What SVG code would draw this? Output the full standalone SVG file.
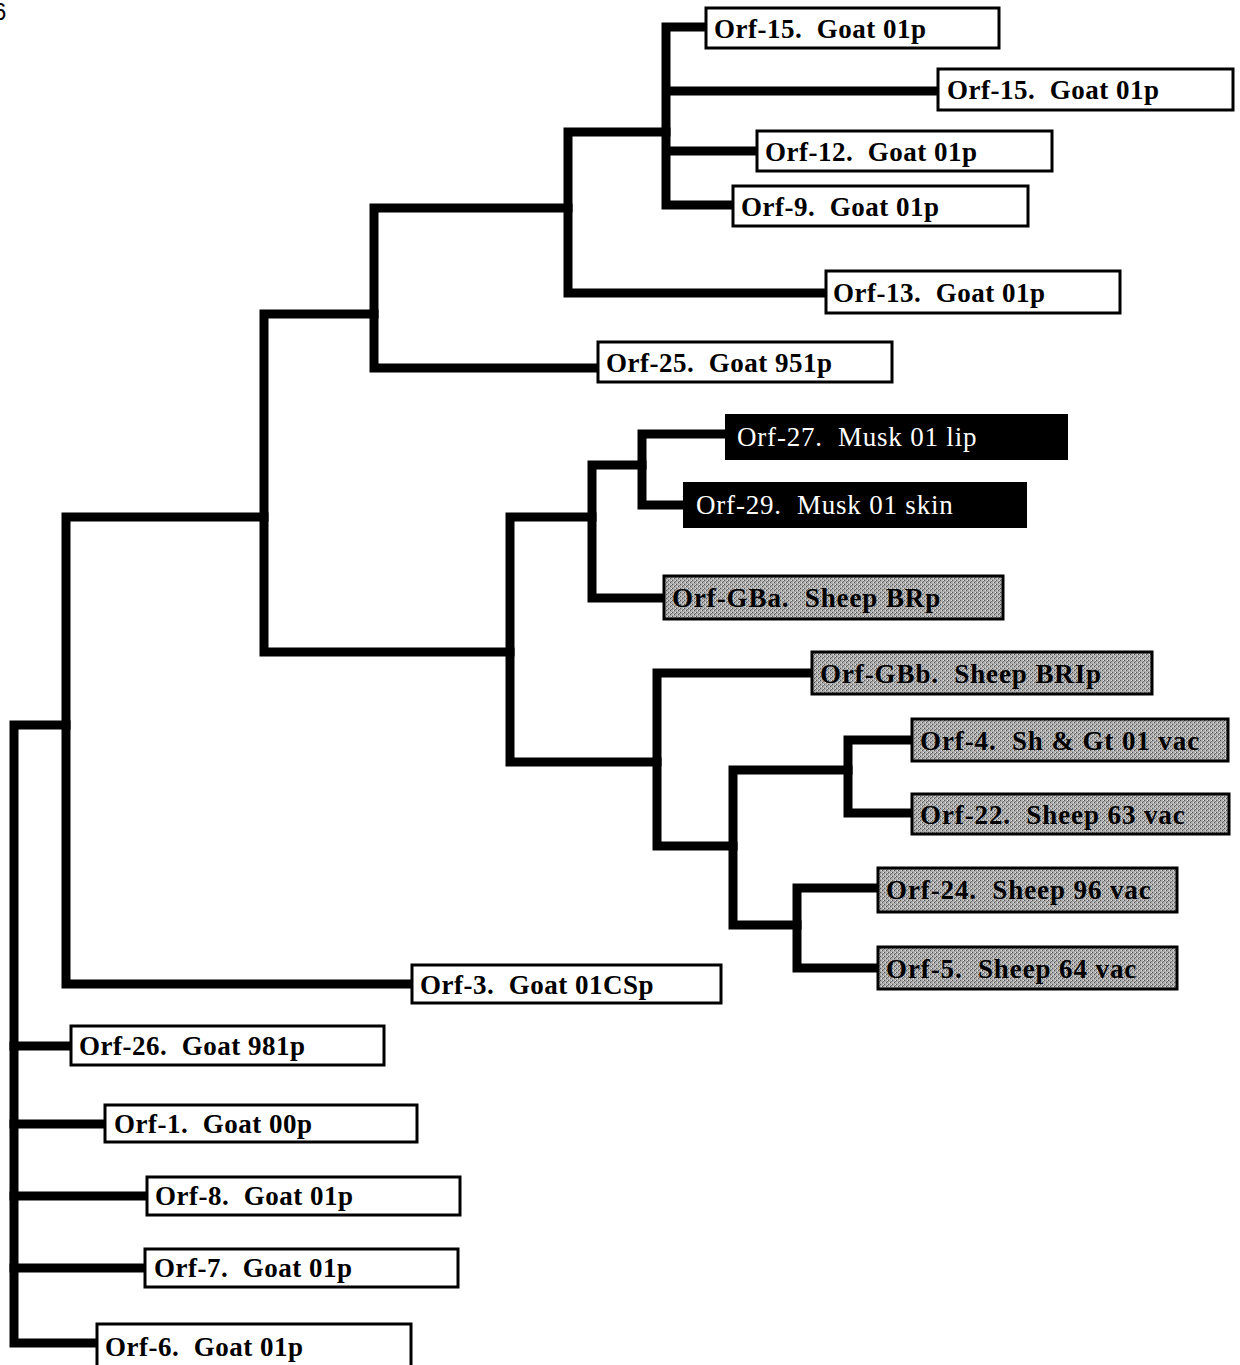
<svg xmlns="http://www.w3.org/2000/svg" width="1240" height="1365" viewBox="0 0 1240 1365">
<defs>
<pattern id="dither" width="4" height="4" patternUnits="userSpaceOnUse">
<rect width="4" height="4" fill="#acacac"/>
<rect x="0" y="0" width="1" height="1" fill="#555"/>
<rect x="2" y="2" width="1" height="1" fill="#555"/>
<rect x="3" y="1" width="1" height="1" fill="#777"/>
<rect x="3" y="0" width="1" height="1" fill="#e0e0e0"/>
<rect x="1" y="2" width="1" height="1" fill="#e0e0e0"/>
</pattern>
</defs>
<style>
.e{fill:none;stroke:#000;stroke-width:9;stroke-linecap:square;stroke-linejoin:miter}
.w rect{fill:#fff;stroke:#000;stroke-width:3}
.b rect{fill:#000;stroke:#000;stroke-width:2}
.g rect{fill:url(#dither);stroke:#000;stroke-width:3}
text{font-family:"Liberation Serif","Times New Roman",serif;font-size:27px;white-space:pre}
.w text{font-weight:bold;fill:#000;letter-spacing:0.5px}
.g text{font-weight:bold;fill:#000;letter-spacing:0.9px}
.b text{fill:#fff;letter-spacing:0.8px}
</style>
<rect width="1240" height="1365" fill="#fff"/>
<text x="-7" y="20" style="font-family:'Liberation Sans',Arial,sans-serif;font-size:24px">6</text>
<g id="connectors">
<path class="e" d="M66 725 H14 V1343 H97"/>
<path class="e" d="M14 1046 H71 M14 1124 H105 M14 1196 H147 M14 1268 H145"/>
<path class="e" d="M264 517 H66 V984 H412"/>
<path class="e" d="M374 314 H264 V652 H510"/>
<path class="e" d="M568 208 H374 V368 H598"/>
<path class="e" d="M666 132 H568 V293 H826"/>
<path class="e" d="M706 27 H666 V205 H733 M666 91 H938 M666 151 H757"/>
<path class="e" d="M592 517 H510 V762 H657"/>
<path class="e" d="M642 465 H592 V598 H664"/>
<path class="e" d="M726 434 H642 V505 H684"/>
<path class="e" d="M812 673 H657 V846 H733"/>
<path class="e" d="M848 770 H733 V925 H797"/>
<path class="e" d="M912 740 H848 V813 H912"/>
<path class="e" d="M878 888 H797 V968 H878"/>
</g>
<g id="orf15a" class="w"><rect x="706" y="8" width="293" height="40"/><text x="714" y="38">Orf-15.  Goat 01p</text></g>
<g id="orf15b" class="w"><rect x="938" y="69" width="295" height="41"/><text x="947" y="99">Orf-15.  Goat 01p</text></g>
<g id="orf12" class="w"><rect x="757" y="131" width="295" height="40"/><text x="765" y="161">Orf-12.  Goat 01p</text></g>
<g id="orf9" class="w"><rect x="733" y="186" width="295" height="40"/><text x="741" y="216">Orf-9.  Goat 01p</text></g>
<g id="orf13" class="w"><rect x="826" y="271" width="294" height="42"/><text x="833" y="302">Orf-13.  Goat 01p</text></g>
<g id="orf25" class="w"><rect x="598" y="342" width="294" height="40"/><text x="606" y="372">Orf-25.  Goat 951p</text></g>
<g id="orf27" class="b"><rect x="726" y="415" width="341" height="44"/><text x="737" y="446">Orf-27.  Musk 01 lip</text></g>
<g id="orf29" class="b"><rect x="684" y="483" width="342" height="44"/><text x="696" y="514">Orf-29.  Musk 01 skin</text></g>
<g id="orfGBa" class="g"><rect x="664" y="576" width="339" height="43"/><text x="672" y="607">Orf-GBa.  Sheep BRp</text></g>
<g id="orfGBb" class="g"><rect x="812" y="652" width="340" height="42"/><text x="820" y="683">Orf-GBb.  Sheep BRIp</text></g>
<g id="orf4" class="g"><rect x="912" y="719" width="316" height="42"/><text x="920" y="750">Orf-4.  Sh &amp; Gt 01 vac</text></g>
<g id="orf22" class="g"><rect x="912" y="794" width="317" height="40"/><text x="920" y="824">Orf-22.  Sheep 63 vac</text></g>
<g id="orf24" class="g"><rect x="878" y="868" width="299" height="44"/><text x="886" y="899">Orf-24.  Sheep 96 vac</text></g>
<g id="orf5" class="g"><rect x="878" y="947" width="299" height="42"/><text x="886" y="978">Orf-5.  Sheep 64 vac</text></g>
<g id="orf3" class="w"><rect x="412" y="965" width="309" height="38"/><text x="420" y="994">Orf-3.  Goat 01CSp</text></g>
<g id="orf26" class="w"><rect x="71" y="1026" width="313" height="39"/><text x="79" y="1055">Orf-26.  Goat 981p</text></g>
<g id="orf1" class="w"><rect x="105" y="1105" width="312" height="37"/><text x="114" y="1133">Orf-1.  Goat 00p</text></g>
<g id="orf8" class="w"><rect x="147" y="1177" width="313" height="38"/><text x="155" y="1205">Orf-8.  Goat 01p</text></g>
<g id="orf7" class="w"><rect x="145" y="1249" width="313" height="38"/><text x="154" y="1277">Orf-7.  Goat 01p</text></g>
<g id="orf6" class="w"><rect x="97" y="1324" width="314" height="50"/><text x="105" y="1356">Orf-6.  Goat 01p</text></g>
</svg>
